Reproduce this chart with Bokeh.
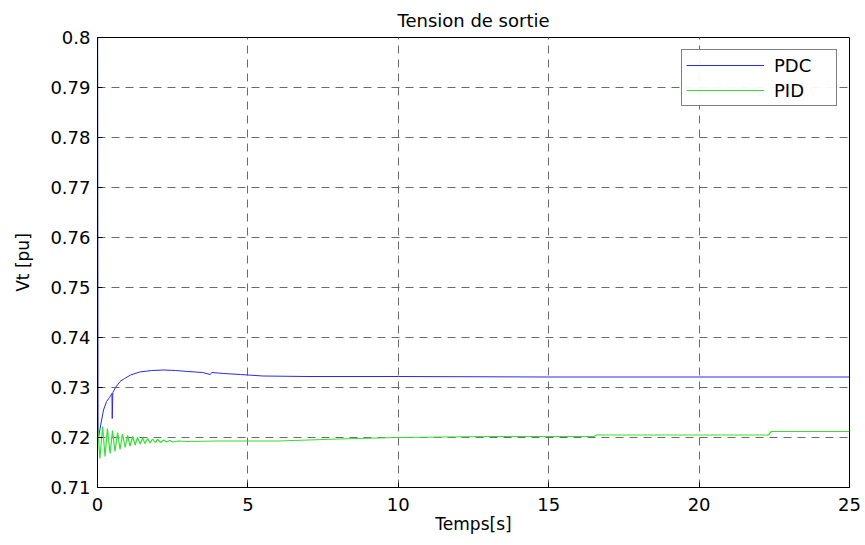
from bokeh.plotting import figure
from bokeh.models import FixedTicker, CustomJSTickFormatter, Legend, LegendItem
from bokeh.embed import file_html
from bokeh.resources import INLINE

# PDC response (time [s], Vt [pu])
pdc_t = [0.0, 0.02, 0.1, 0.2, 0.3, 0.4, 0.48, 0.49, 0.51, 0.6, 0.75, 0.9, 1.1, 1.4,
         1.8, 2.2, 2.6, 3.0, 3.5, 3.75, 3.8, 4.2, 4.75, 5.5, 7.0, 10.0, 15.0, 20.0, 25.0]
pdc_v = [0.83, 0.7195, 0.7223, 0.7255, 0.7272, 0.7280, 0.7288, 0.7238, 0.7290, 0.7300,
         0.7312, 0.7318, 0.7325, 0.7331, 0.7334, 0.7335, 0.7334, 0.7332, 0.7330, 0.7326,
         0.7330, 0.7328, 0.7326, 0.7323, 0.7322, 0.7322, 0.7321, 0.7321, 0.7321]

# PID response (time [s], Vt [pu])
pid_t = [0.0, 0.08, 0.17, 0.25, 0.33, 0.42, 0.50, 0.58, 0.67, 0.75, 0.83, 0.92, 1.0,
         1.08, 1.17, 1.25, 1.33, 1.42, 1.5, 1.58, 1.67, 1.75, 1.83, 1.92, 2.0, 2.1,
         2.2, 2.3, 2.4, 2.5, 2.7, 3.0, 4.0, 5.0, 6.0, 8.0, 10.0, 13.0, 16.5, 16.6,
         22.3, 22.4, 25.0]
pid_v = [0.7225, 0.7158, 0.7222, 0.7162, 0.7218, 0.7168, 0.7214, 0.7172, 0.7210,
         0.7176, 0.7207, 0.7180, 0.7204, 0.7183, 0.7202, 0.7185, 0.7200, 0.7187,
         0.7199, 0.7188, 0.7198, 0.7189, 0.7197, 0.7190, 0.7196, 0.7190, 0.7195,
         0.7191, 0.7194, 0.7191, 0.7193, 0.7192, 0.7193, 0.7193, 0.7193, 0.7197,
         0.7200, 0.7202, 0.7202, 0.7205, 0.7205, 0.7212, 0.7212]

x_ticks = [0, 5, 10, 15, 20, 25]
y_ticks = [0.71, 0.72, 0.73, 0.74, 0.75, 0.76, 0.77, 0.78, 0.79, 0.80]

FONT = "DejaVu Sans"

p = figure(width=865, height=545, output_backend="svg", toolbar_location=None,
           x_range=(0, 25), y_range=(0.71, 0.80),
           min_border_left=97, min_border_right=16, min_border_top=37, min_border_bottom=58)

p.title.text = "Tension de sortie"
p.title.align = "center"
p.title.text_font = FONT
p.title.text_font_size = "18px"
p.title.text_font_style = "normal"
p.title.text_color = "black"
p.title.standoff = 14

p.outline_line_color = "black"
p.outline_line_width = 1
p.background_fill_color = "white"
p.border_fill_color = "white"

p.xaxis.ticker = FixedTicker(ticks=x_ticks)
p.yaxis.ticker = FixedTicker(ticks=y_ticks)
p.yaxis.formatter = CustomJSTickFormatter(code="return (Math.round(tick*100)/100).toString();")
p.xaxis.axis_label = "Temps[s]"
p.yaxis.axis_label = "Vt [pu]"

for ax in (p.xaxis[0], p.yaxis[0]):
    ax.major_tick_in = 5
    ax.major_tick_out = 0
    ax.minor_tick_in = 0
    ax.minor_tick_out = 0
    ax.axis_line_color = "black"
    ax.major_tick_line_color = "black"
    ax.major_label_text_font = FONT
    ax.major_label_text_font_size = "18px"
    ax.major_label_text_color = "black"
    ax.axis_label_text_font = FONT
    ax.axis_label_text_font_size = "17px"
    ax.axis_label_text_font_style = "normal"
    ax.axis_label_text_color = "black"

p.xaxis.major_label_standoff = 10
p.xaxis.axis_label_standoff = 0
p.yaxis.major_label_standoff = 7
p.yaxis.axis_label_standoff = 14

p.xgrid.ticker = FixedTicker(ticks=x_ticks)
p.ygrid.ticker = FixedTicker(ticks=y_ticks)
for g in (p.xgrid[0], p.ygrid[0]):
    g.grid_line_color = "#6a6a6a"
    g.grid_line_dash = "8 6"
    g.grid_line_width = 1

r_pdc = p.line(pdc_t, pdc_v, line_color="#2a2ae6", line_width=1)
r_pid = p.line(pid_t, pid_v, line_color="#33e033", line_width=1.2)

legend = Legend(items=[LegendItem(label="PDC", renderers=[r_pdc]),
                       LegendItem(label="PID", renderers=[r_pid])],
                location="top_right")
legend.label_text_font = FONT
legend.label_text_font_size = "18px"
legend.label_text_color = "black"
legend.glyph_width = 78
legend.label_width = 58
legend.label_standoff = 10
legend.border_line_color = "black"
legend.border_line_width = 1
legend.margin = 12
legend.padding = 4
legend.spacing = 3
legend.label_height = 22
legend.glyph_height = 22
p.add_layout(legend, "center")

open("out.html", "w").write(file_html(p, INLINE))
